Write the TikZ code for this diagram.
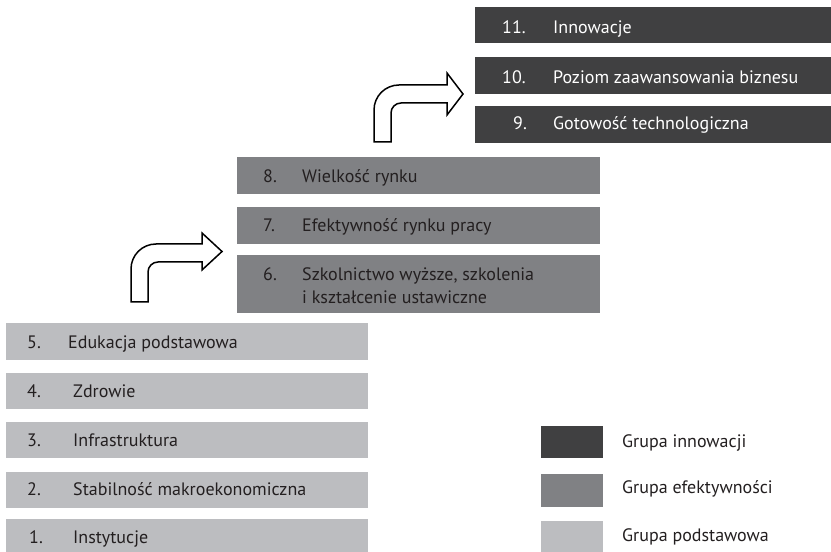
\documentclass[tikz,border=0pt]{standalone}
\usepackage{fontspec}
\setmainfont{PT Sans}
\definecolor{cDark}{RGB}{64,64,65}
\definecolor{cMid}{RGB}{128,129,132}
\definecolor{cLight}{RGB}{188,189,192}
\definecolor{cText}{RGB}{35,31,32}
\begin{document}
\begin{tikzpicture}[x=1pt,y=1pt,
  bx/.style={anchor=north west, inner sep=0pt, outer sep=0pt, draw=none},
  lbl/.style={anchor=base west, inner sep=0pt, font=\fontsize{18}{22}\selectfont, text=cText},
  lblw/.style={lbl, text=white},
  barrow/.style={draw=black, fill=white, line width=1.5pt, line join=miter}]
\useasboundingbox (0,0) rectangle (831,552);
% innovation group
\node[bx, fill=cDark, minimum width=356pt, minimum height=36pt] (b11) at (475,545) {};
\node[bx, fill=cDark, minimum width=356pt, minimum height=37pt] (b10) at (475,495) {};
\node[bx, fill=cDark, minimum width=356pt, minimum height=37pt] (b9) at (475,446) {};
\node[lblw] (n11) at (502,518.7) {11.};
\node[lblw] (t11) at (553,518.7) {Innowacje};
\node[lblw] (n10) at (502,468.7) {10.};
\node[lblw] (t10) at (553,468.7) {Poziom zaawansowania biznesu};
\node[lblw] (n9) at (513,422) {9.};
\node[lblw] (t9) at (553,422) {Gotowość technologiczna};
% efficiency group
\node[bx, fill=cMid, minimum width=363pt, minimum height=37pt] (b8) at (237,395) {};
\node[bx, fill=cMid, minimum width=363pt, minimum height=37pt] (b7) at (237,345) {};
\node[bx, fill=cMid, minimum width=363pt, minimum height=58pt] (b6) at (237,297) {};
\node[lbl] (n8) at (263,369.7) {8.};
\node[lbl] (t8) at (302,369.7) {Wielkość rynku};
\node[lbl] (n7) at (263,320.3) {7.};
\node[lbl] (t7) at (302,320.3) {Efektywność rynku pracy};
\node[lbl] (n6) at (263,271.3) {6.};
\node[lbl] (t6) at (302,271.3) {Szkolnictwo wyższe, szkolenia};
\node[lbl] (t6b) at (302,248.7) {i kształcenie ustawiczne};
% basic group
\node[bx, fill=cLight, minimum width=362pt, minimum height=37pt] (b5) at (6,229) {};
\node[bx, fill=cLight, minimum width=362pt, minimum height=36pt] (b4) at (6,179) {};
\node[bx, fill=cLight, minimum width=362pt, minimum height=36pt] (b3) at (6,130) {};
\node[bx, fill=cLight, minimum width=362pt, minimum height=36pt] (b2) at (6,80) {};
\node[bx, fill=cLight, minimum width=362pt, minimum height=37pt] (b1) at (6,33) {};
\node[lbl] (n5) at (27,203.7) {5.};
\node[lbl] (t5) at (68,203.7) {Edukacja podstawowa};
\node[lbl] (n4) at (27,154.3) {4.};
\node[lbl] (t4) at (73,154.3) {Zdrowie};
\node[lbl] (n3) at (27,105.3) {3.};
\node[lbl] (t3) at (73,105.3) {Infrastruktura};
\node[lbl] (n2) at (27,56) {2.};
\node[lbl] (t2) at (73,56) {Stabilność makroekonomiczna};
\node[lbl] (n1) at (29,8) {1.};
\node[lbl] (t1) at (73,8) {Instytucje};
% legend
\node[bx, fill=cDark, minimum width=62pt, minimum height=32pt] (l1) at (541,126) {};
\node[bx, fill=cMid, minimum width=62pt, minimum height=33pt] (l2) at (541,78) {};
\node[bx, fill=cLight, minimum width=62pt, minimum height=32pt] (l3) at (541,31) {};
\node[lbl] (lt1) at (622,104.3) {Grupa innowacji};
\node[lbl] (lt2) at (622,58) {Grupa efektywności};
\node[lbl] (lt3) at (622,10.3) {Grupa podstawowa};
% block arrows
\draw[barrow] (374,410) -- (374,442) arc[start angle=180, end angle=90, radius=25]
  -- (447,467) -- (447,479) -- (463,458) -- (447,437) -- (447,449) -- (401,449)
  arc[start angle=90, end angle=180, radius=10] -- (391,410) -- cycle;
\draw[barrow] (131,250) -- (131,283) arc[start angle=180, end angle=90, radius=25]
  -- (202,308) -- (202,319) -- (222,300.5) -- (202,282) -- (202,290) -- (158,290)
  arc[start angle=90, end angle=180, radius=10] -- (148,250) -- cycle;
\end{tikzpicture}
\end{document}
